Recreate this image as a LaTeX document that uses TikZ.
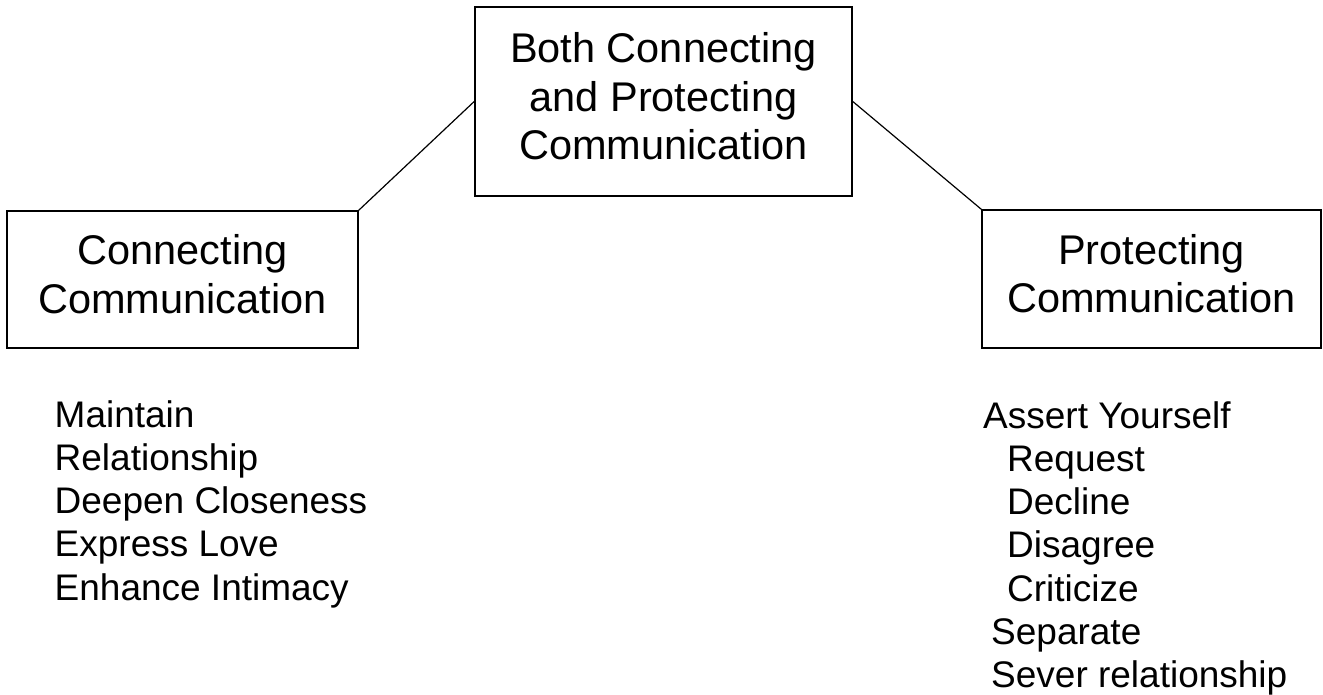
\documentclass[tikz,border=0pt]{standalone}
\usepackage{fontspec}
\setmainfont{Liberation Sans}
\begin{document}
\begin{tikzpicture}[x=1pt,y=-1pt,
  boxfont/.style={font=\fontsize{41.5}{48.5}\selectfont},
  listfont/.style={font=\fontsize{37}{43.3}\selectfont},
  box/.style={draw=black, line width=1.6pt, rectangle, inner sep=0pt, align=center, boxfont},
  conn/.style={draw=black, line width=1.2pt},
  listnode/.style={anchor=base west, inner sep=0pt, listfont}
]
\useasboundingbox (0,0) rectangle (1323,694);
\node[box, minimum width=377pt, minimum height=189pt] (top) at (663.5,101.5)
  {\begin{tabular}{@{}c@{}}Both Connecting\\ and Protecting\\ Communication\end{tabular}};
\node[box, minimum width=351pt, minimum height=137pt] (left) at (182.5,279.5)
  {\begin{tabular}{@{}c@{}}Connecting\\ Communication\end{tabular}};
\node[box, minimum width=339pt, minimum height=138pt] (right) at (1151.5,279)
  {\begin{tabular}{@{}c@{}}Protecting\\ Communication\end{tabular}};
\draw[conn] (left.north east) -- (top.west);
\draw[conn] (top.east) -- (right.north west);
\node[listnode] (llist) at (54.5,427)
  {\begin{tabular}[t]{@{}l@{}}Maintain\\ Relationship\\ Deepen Closeness\\ Express Love\\ Enhance Intimacy\end{tabular}};
\node[listnode] (rlist) at (983,428)
  {\begin{tabular}[t]{@{}l@{}}Assert Yourself\\ \hspace*{24pt}Request\\ \hspace*{24pt}Decline\\ \hspace*{24pt}Disagree\\ \hspace*{24pt}Criticize\\ \hspace*{8pt}Separate\\ \hspace*{8pt}Sever relationship\end{tabular}};
\end{tikzpicture}
\end{document}
